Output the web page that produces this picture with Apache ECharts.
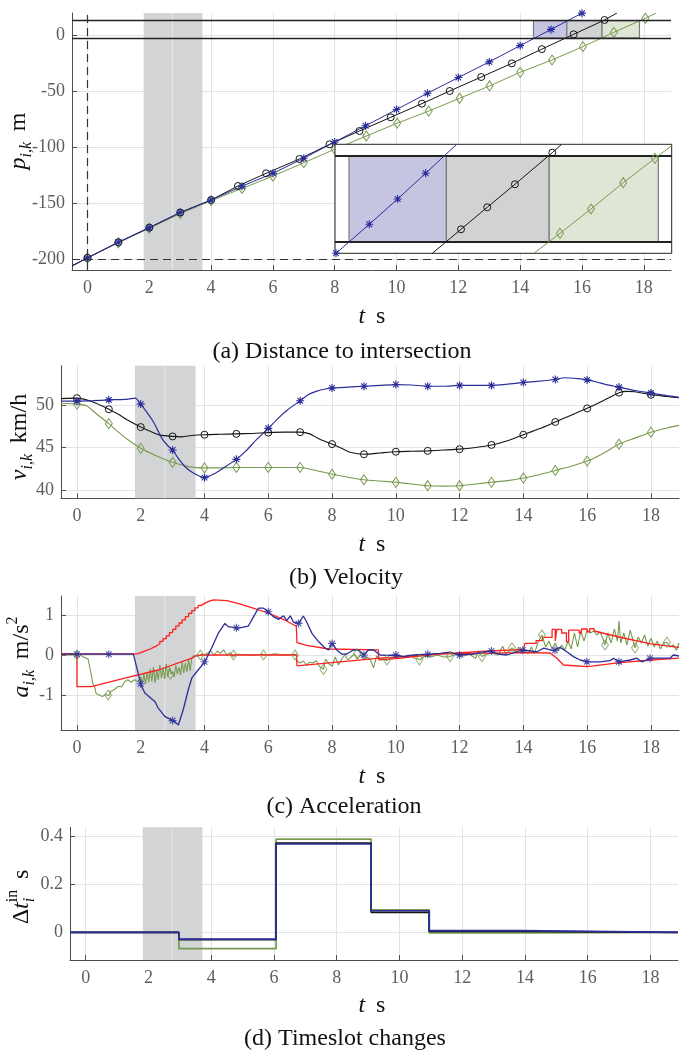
<!DOCTYPE html>
<html><head><meta charset="utf-8">
<script src="https://cdn.jsdelivr.net/npm/echarts@6/dist/echarts.min.js"></script>
<style>html,body{margin:0;padding:0;background:#fff}#c{width:689px;height:1053px}</style>
</head><body><div id="c"></div>
<script>
// ---------------- DATA ----------------
const xTicks = [0, 2, 4, 6, 8, 10, 12, 14, 16, 18];
const posTicks = [-200, -150, -100, -50, 0];
const velTicks = [40, 45, 50];
const accTicks = [-1, 0, 1];
const dtTicks = [0, 0.2, 0.4];

const band = [1.82, 3.72];
const bandLine = 2.75;
const zone = [-2.6, 12.8];
const slotBlue = [14.43, 15.51];
const slotBlack = [15.51, 16.65];
const slotGreen = [16.65, 17.86];

// (a) distance to intersection [t, p]
const posBlue = [[-0.5,-206.5],[0,-199],[1,-185],[2,-172],[3,-158.5],[4,-147.3],[5,-135],[6,-123.5],[7,-110],[8,-95.5],[9,-81],[10,-66.5],[11,-52],[12,-38],[13,-24],[14,-9.5],[15,5],[16,19.5]];
const posBlack = [[-0.5,-206],[0,-199],[1,-185],[2,-172],[3,-158.5],[4,-147.3],[4.87,-134.8],[5.78,-123.5],[6.86,-110.7],[7.83,-97.6],[8.8,-85.7],[9.81,-73.5],[10.82,-61.3],[11.72,-50],[12.74,-37.5],[13.73,-25.3],[14.7,-12.6],[15.73,0.6],[16.73,13.4],[17.13,19.6]];
const posGreen = [[-0.5,-206],[0,-199],[1,-185.5],[2,-172.5],[3,-159.5],[4,-148],[5,-137],[6,-126],[7,-114],[8,-102],[9.02,-90.2],[10.02,-78.8],[11.04,-67.9],[12.04,-56.5],[13.01,-45.5],[14.0,-33.3],[15.03,-22.3],[16.03,-10.4],[17.03,2.4],[18.05,14.9],[18.4,19.6]];
// (a) inset (zoom of the intersection zone)
const insBlue = [[14.286,-4.68],[14.655,0.51],[14.97,5.05],[15.28,9.65],[15.624,14.84]];
const insBlack = [[15.354,-4.68],[15.672,-0.38],[15.963,3.56],[16.27,7.68],[16.684,13.34],[16.788,14.84]];
const insGreen = [[16.481,-4.68],[16.769,-1.1],[17.113,3.25],[17.471,7.96],[17.822,12.33],[18.008,14.59]];

// (b) velocity [t, km/h]
const velBlue = [[-0.5,50.45],[0,50.45],[0.5,50.5],[1,50.6],[1.5,50.65],[1.83,50.8],[2,50.1],[2.2,49.1],[2.4,48.0],[2.66,46.1],[2.85,45.2],[3,44.7],[3.2,43.6],[3.4,42.7],[3.6,42.1],[3.8,41.7],[4,41.45],[4.3,41.9],[4.6,42.6],[5,43.6],[5.3,44.6],[5.6,45.8],[6,47.25],[6.3,48.4],[6.6,49.4],[7,50.5],[7.25,51.2],[7.5,51.6],[7.75,51.85],[8,52.0],[8.5,52.1],[9,52.2],[9.5,52.3],[10,52.4],[10.5,52.35],[11,52.2],[11.5,52.2],[12,52.3],[12.5,52.3],[13,52.3],[13.5,52.45],[14,52.65],[14.5,52.8],[15,53.0],[15.3,53.2],[15.7,53.1],[16,52.95],[16.3,52.7],[16.6,52.4],[17,52.1],[17.5,51.7],[18,51.4],[18.5,51.1],[18.88,50.9]];
const velBlack = [[-0.5,50.75],[0,50.8],[0.3,50.6],[0.6,50.2],[1,49.5],[1.3,48.9],[1.6,48.2],[2,47.4],[2.3,46.9],[2.6,46.45],[3,46.3],[3.3,46.25],[3.6,46.4],[4,46.5],[4.5,46.55],[5,46.6],[5.5,46.65],[6,46.75],[6.5,46.8],[7,46.8],[7.3,46.6],[7.6,46.0],[8,45.4],[8.3,44.9],[8.6,44.4],[9,44.2],[9.5,44.35],[10,44.5],[10.5,44.55],[11,44.6],[11.5,44.7],[12,44.8],[12.5,45.0],[13,45.3],[13.5,45.8],[14,46.5],[14.5,47.2],[15,48.0],[15.5,48.8],[16,49.6],[16.5,50.5],[17,51.45],[17.25,51.6],[17.5,51.55],[18,51.2],[18.5,51.0],[18.88,50.85]];
const velGreen = [[-0.5,50.2],[0,50.1],[0.3,49.9],[0.6,49.0],[1,47.8],[1.3,46.8],[1.6,45.9],[2,44.9],[2.5,44.0],[3,43.25],[3.5,42.75],[4,42.6],[4.5,42.6],[5,42.65],[6,42.65],[7,42.65],[7.5,42.3],[8,41.85],[8.5,41.5],[9,41.2],[9.5,41.05],[10,40.9],[10.5,40.7],[11,40.5],[11.5,40.45],[12,40.5],[12.5,40.7],[13,40.9],[13.5,41.1],[14,41.4],[14.5,41.8],[15,42.3],[15.5,42.8],[16,43.4],[16.5,44.3],[17,45.4],[17.5,46.1],[18,46.8],[18.5,47.3],[18.88,47.6]];

// (c) acceleration [t, m/s^2]
const accRedUpHead = [[-0.5,0.03]];
const accRedUpStairs = [[1.8,0.03],[1.9,0.06],[2.0,0.09],[2.1,0.12],[2.2,0.15],[2.3,0.19],[2.4,0.23],[2.5,0.28],[2.6,0.34],[2.7,0.41],[2.8,0.48],[2.9,0.56],[3.0,0.64],[3.1,0.72],[3.2,0.80],[3.3,0.88],[3.4,0.96],[3.5,1.04],[3.6,1.11],[3.7,1.18],[3.8,1.24],[3.9,1.29],[4.0,1.33],[4.1,1.36],[4.2,1.38],[4.3,1.38]];
const accRedUpTail = [[4.7,1.36],[5.1,1.28],[5.5,1.18],[6.0,1.05],[6.5,0.88],[6.88,0.72],[6.9,0.31],[7.2,0.24],[7.9,0.15],[9.45,0.13],[9.47,-0.12],[10.0,-0.09],[11.4,0.03],[12.96,0.1],[14.0,0.14],[14.05,0.14],[14.05,0.29],[14.4,0.29],[14.4,0.36],[14.6,0.36],[14.6,0.44],[14.9,0.44],[14.9,0.64],[15.0,0.64],[15.0,0.35],[15.05,0.35],[15.05,0.64],[15.2,0.64],[15.2,0.55],[15.35,0.55],[15.35,0.33],[15.42,0.33],[15.42,0.62],[15.75,0.62],[15.75,0.55],[15.82,0.55],[15.82,0.65],[16.0,0.65],[16.0,0.58],[16.08,0.58],[16.08,0.66],[16.22,0.66],[16.22,0.6],[17.0,0.45],[18.0,0.28],[18.88,0.19]];
const accRedLow = [[-0.5,0.03],[0,0.03],[0,-0.79],[0.45,-0.79],[0.5,-0.76],[1.5,-0.58],[2.55,-0.375],[3.6,-0.08],[3.75,-0.01],[4.0,0.0],[6.88,0.0],[6.9,-0.27],[8.25,-0.17],[9.5,-0.08],[11.4,0.03],[14.0,0.06],[14.84,0.05],[15.05,-0.08],[15.26,-0.25],[15.3,-0.29],[16.0,-0.29],[17.03,-0.19],[18.0,-0.125],[18.88,-0.08]];
const accBlue = [[-0.5,0.02],[1.77,0.02],[1.92,-0.46],[2.03,-0.79],[2.13,-0.95],[2.45,-1.17],[2.55,-1.33],[2.76,-1.54],[2.97,-1.62],[3.07,-1.67],[3.18,-1.75],[3.33,-1.375],[3.49,-0.875],[3.6,-0.58],[3.8,-0.375],[4.01,-0.17],[4.22,0.17],[4.43,0.54],[4.64,0.79],[4.74,0.71],[5.06,0.67],[5.37,0.72],[5.54,0.96],[5.69,1.17],[5.85,1.17],[6.0,1.08],[6.16,0.96],[6.32,0.89],[6.48,0.98],[6.58,0.86],[6.69,0.98],[6.79,0.82],[6.95,0.79],[7.1,0.975],[7.2,0.83],[7.37,0.54],[7.58,0.33],[7.79,0.17],[7.89,0.125],[8.0,0.29],[8.15,0.125],[8.31,0.02],[8.46,0.025],[8.67,0.125],[8.83,0.125],[9.0,0.0],[9.14,0.125],[9.3,0.125],[9.51,0.0],[9.72,-0.01],[10.03,0.0],[10.24,-0.04],[10.55,0.0],[11.02,0.02],[11.39,0.04],[11.7,0.07],[11.96,0.0],[12.44,0.025],[12.96,0.1],[13.22,0.025],[13.48,0.0],[13.9,0.11],[14.0,0.125],[14.42,0.075],[14.63,0.17],[14.94,0.11],[15.15,0.19],[15.36,0.08],[15.57,-0.04],[15.78,-0.125],[16.0,-0.17],[16.41,-0.17],[16.72,-0.14],[16.83,-0.08],[16.98,-0.17],[17.35,-0.125],[17.56,-0.08],[17.71,-0.17],[17.87,-0.125],[17.97,-0.08],[18.6,-0.08],[18.7,0.0],[18.88,-0.025]];
const accBlueStars = [[0,0.02],[1,0.02],[2,-0.72],[3,-1.64],[4,-0.17],[5,0.68],[6,1.08],[6.95,0.79],[8,0.29],[9,0.0],[10,0.0],[11,0.02],[12,0.0],[13,0.1],[13.98,0.12],[14.99,0.12],[15.99,-0.17],[17,-0.17],[17.97,-0.08]];
const accGreen = [[-0.5,0],[0.1,0],[0.2,-0.05],[0.35,-0.1],[0.4,-0.3],[0.45,-0.5],[0.5,-0.72],[0.55,-0.78],[0.6,-0.96],[0.7,-1.0],[0.8,-1.04],[0.9,-0.98],[1.0,-1.02],[1.05,-0.92],[1.1,-0.95],[1.2,-0.85],[1.25,-0.9],[1.3,-0.78],[1.4,-0.8],[1.5,-0.66],[1.6,-0.62],[1.7,-0.68],[1.8,-0.62],[1.9,-0.67],[2.0,-0.55],[2.05,-0.7],[2.1,-0.48],[2.15,-0.72],[2.2,-0.42],[2.25,-0.68],[2.3,-0.35],[2.35,-0.66],[2.4,-0.3],[2.45,-0.7],[2.5,-0.38],[2.55,-0.62],[2.6,-0.25],[2.65,-0.58],[2.7,-0.32],[2.75,-0.6],[2.8,-0.22],[2.85,-0.55],[2.9,-0.3],[2.95,-0.48],[3.0,-0.42],[3.05,-0.55],[3.1,-0.25],[3.15,-0.48],[3.2,-0.3],[3.25,-0.5],[3.3,-0.18],[3.35,-0.45],[3.4,-0.2],[3.45,-0.42],[3.5,-0.12],[3.55,-0.4],[3.6,-0.08],[3.65,-0.02],[3.7,0.02],[3.8,-0.03],[3.9,0.02],[4.0,0.0],[4.2,0.1],[4.3,0.0],[4.4,0.1],[4.5,0.04],[4.6,0.13],[4.7,0.0],[4.8,0.06],[4.9,-0.04],[5.0,0.02],[5.5,0.0],[5.8,0.02],[6.0,0.0],[6.2,0.03],[6.5,0.0],[6.88,0.02],[6.9,-0.15],[7.0,-0.2],[7.1,-0.15],[7.2,-0.25],[7.3,-0.18],[7.4,-0.2],[7.5,-0.14],[7.6,-0.28],[7.73,-0.36],[7.8,-0.1],[7.9,-0.22],[8.0,-0.28],[8.1,-0.05],[8.2,-0.25],[8.3,-0.1],[8.4,0.0],[8.5,-0.12],[8.6,-0.05],[8.7,0.03],[8.8,-0.1],[8.9,0.0],[9.0,-0.12],[9.1,-0.05],[9.2,-0.12],[9.3,-0.32],[9.4,-0.02],[9.5,-0.12],[9.6,-0.08],[9.7,-0.14],[9.8,-0.1],[10.0,-0.05],[10.2,-0.06],[10.4,0.0],[10.6,-0.08],[10.76,-0.12],[10.9,-0.03],[11.1,-0.05],[11.3,0.0],[11.5,-0.05],[11.7,-0.04],[11.9,0.02],[12.1,-0.03],[12.3,0.02],[12.5,-0.08],[12.6,0.1],[12.7,-0.04],[12.8,0.0],[13.0,0.05],[13.2,0.0],[13.35,0.22],[13.45,0.02],[13.55,0.1],[13.64,0.18],[13.75,0.08],[13.85,0.2],[13.95,0.05],[14.05,0.12],[14.15,0.03],[14.25,0.2],[14.35,0.04],[14.45,0.3],[14.58,0.5],[14.7,0.2],[14.8,0.35],[14.9,0.15],[15.0,0.3],[15.1,0.1],[15.2,0.25],[15.3,0.12],[15.4,0.35],[15.5,0.15],[15.6,0.55],[15.7,0.2],[15.8,0.6],[15.9,0.35],[16.0,0.62],[16.1,0.55],[16.2,0.6],[16.3,0.5],[16.4,0.58],[16.5,0.4],[16.56,0.25],[16.65,0.55],[16.75,0.3],[16.85,0.65],[16.95,0.35],[17.0,0.85],[17.05,0.3],[17.15,0.55],[17.25,0.25],[17.35,0.62],[17.5,0.18],[17.6,0.45],[17.7,0.3],[17.8,0.5],[17.9,0.22],[18.0,0.42],[18.1,0.2],[18.2,0.35],[18.3,0.15],[18.4,0.3],[18.5,0.32],[18.6,0.2],[18.7,0.25],[18.8,0.12],[18.88,0.3]];
const accGreenDiamonds = [[0,0],[0.98,-1.0],[2.93,-0.48],[3.87,0.0],[4.91,0.0],[5.85,0.0],[6.84,0.0],[7.73,-0.36],[8.78,0.03],[9.72,-0.12],[10.74,-0.12],[11.7,-0.04],[12.7,-0.04],[13.64,0.18],[14.58,0.5],[16.56,0.25],[17.5,0.18],[18.5,0.32]];

// (d) timeslot changes [t, s] (step changes)
const dtBlue = [[-0.5,0],[2.97,-0.028],[6.07,0.368],[9.1,0.09],[10.95,0.007],[13.87,0],[18.88,0]];
const dtBlack = [[-0.5,0],[2.97,-0.03],[6.07,0.372],[9.1,0.083],[10.95,0.004],[13.87,0],[18.88,0]];
const dtGreen = [[-0.5,0],[2.97,-0.068],[6.07,0.388],[9.1,0.094],[10.95,-0.002],[13.87,0],[18.88,0]];

// ---------------- STYLE ----------------
const X_MIN = -0.5, X_MAX = 18.88;
const COL = {blue:'#2b2e99', black:'#151515', green:'#789a50', red:'#ff1f1f',
  band:'#d3d4d6', bandLine:'#e3e4e5', grid:'#e3e3e3', axis:'#4d4d4d', label:'#5e5e5e',
  rBlue:'#c5c4e1', rGray:'#d1d2d4', rGreen:'#dfe6d6', rEdge:'#7a7a7a'};
const FONT = '"Liberation Serif", "Times New Roman", serif';
const STAR = 'path://M10,0L10,20M0,10L20,10M2.9,2.9L17.1,17.1M17.1,2.9L2.9,17.1';

function xAx(gi){ return {type:'value', gridIndex:gi, min:X_MIN, max:X_MAX,
  axisLine:{show:true,onZero:false,lineStyle:{color:COL.axis,width:1}},
  axisTick:{show:true,inside:true,length:5,customValues:xTicks,lineStyle:{color:COL.axis}},
  axisLabel:{show:true,customValues:xTicks,color:COL.label,fontFamily:FONT,fontSize:18,margin:9},
  splitLine:{show:true,lineStyle:{color:COL.grid,width:1}}}; }
function yAx(gi,min,max,ticks){ return {type:'value', gridIndex:gi, min, max,
  axisLine:{show:true,onZero:false,lineStyle:{color:COL.axis,width:1}},
  axisTick:{show:true,inside:true,length:5,customValues:ticks,lineStyle:{color:COL.axis}},
  axisLabel:{show:true,customValues:ticks,color:COL.label,fontFamily:FONT,fontSize:18,margin:7},
  splitLine:{show:true,lineStyle:{color:COL.grid,width:1}}}; }

function marked(arr, skipFirst, skipLast){
  return arr.map((v,i)=>((skipFirst&&i===0)||(skipLast&&i===arr.length-1))?{value:v,symbol:'none'}:{value:v});
}
function intMarks(arr){ return arr.map(v=>Number.isInteger(v[0])?{value:v}:{value:v,symbol:'none'}); }
function stairs(arr){ const out=[]; arr.forEach((p,i)=>{ if(i>0) out.push([p[0],arr[i-1][1]]); out.push(p); }); return out; }

const sym = {
  blue:{symbol:STAR,symbolSize:8,itemStyle:{color:'none',borderColor:COL.blue,borderWidth:1.1}},
  black:{symbol:'circle',symbolSize:7,itemStyle:{color:'none',borderColor:COL.black,borderWidth:1}},
  green:{symbol:'diamond',symbolSize:[7,10],itemStyle:{color:'none',borderColor:COL.green,borderWidth:1}}
};
function lineS(gi, data, color, width, s, extra){
  return Object.assign({type:'line', xAxisIndex:gi, yAxisIndex:gi, data, silent:true, animation:false,
    lineStyle:{color,width}, showSymbol:!!s, symbol: s? s.symbol:'none', symbolSize: s? s.symbolSize:0,
    itemStyle: s? s.itemStyle:{color}, z:3, emphasis:{disabled:true}}, extra||{});
}
function scatterS(gi, data, s){
  return {type:'scatter', xAxisIndex:gi, yAxisIndex:gi, data, silent:true, animation:false,
    symbol:s.symbol, symbolSize:s.symbolSize, itemStyle:s.itemStyle, z:4, emphasis:{disabled:true}};
}
const NL = {symbol:['none','none'], label:{show:false}, silent:true, animation:false};
function bandAreas(){ return [
  [{xAxis:band[0], itemStyle:{color:COL.band}},{xAxis:band[1]}],
  [{xAxis:bandLine-0.02, itemStyle:{color:COL.bandLine}},{xAxis:bandLine+0.02}]
]; }
function decor(gi, extraAreas, markLine, z){
  return {type:'line', xAxisIndex:gi, yAxisIndex:gi, data:[[X_MIN-50,0]], symbol:'none', silent:true,
    animation:false, lineStyle:{width:0},
    markArea:{silent:true, animation:false, z: z||1, data: extraAreas},
    markLine: markLine ? Object.assign({}, NL, markLine, {z:(z||1)+4}) : undefined};
}
function rect(r, color, y0, y1){ return [{xAxis:r[0], yAxis:y0, itemStyle:{color, borderColor:COL.rEdge, borderWidth:1.2}},{xAxis:r[1], yAxis:y1}]; }

// ---------------- TEXT (math-style labels) ----------------
const meas = document.createElement('canvas').getContext('2d');
function tw(font, s){ meas.font = font; return meas.measureText(s).width; }
const fI = 'italic 24px "Liberation Serif"', fR = '24px "Liberation Serif"';
const sI = 'italic 16px "Liberation Serif"', sR = '16px "Liberation Serif"';
const GAP = ' \u2009';
function mathLabel(cx, cy, rot, pieces){
  let x = 0; const items = [];
  pieces.forEach(p=>{ items.push({x,p}); if(!p.stay) x += tw(p.f, p.t); });
  const W = x;
  return {type:'group', x:cx, y:cy, rotation:rot, silent:true,
    children: items.map(({x,p})=>({type:'text', x:x-W/2, y:p.dy||0,
      style:{text:p.t, font:p.f, fill:'#111', align:'left', verticalAlign:'middle'}}))};
}
function caption(cx, cy, text){ return {type:'text', x:cx, y:cy, silent:true,
  style:{text, font:'24px "Liberation Serif"', fill:'#111', align:'center', verticalAlign:'middle'}}; }
const tLabel = cy => mathLabel(372, cy, 0, [{t:'t',f:fI},{t:GAP+'s',f:fR}]);
const R90 = Math.PI/2;

// ---------------- OPTION ----------------
const grids = [
  {left:72, top:13, width:599, height:257},
  {left:61, top:365.7, width:618, height:132.6},
  {left:61, top:596, width:618, height:134},
  {left:70, top:827.3, width:608, height:132.7},
  {left:335, top:144.3, width:336.7, height:109, show:true, backgroundColor:'#ffffff', borderColor:'#222', borderWidth:1, z:10}
].map(g=>Object.assign({outerBoundsMode:'none', containLabel:false}, g));

const insetX = {type:'value', gridIndex:4, min:14.275, max:18.008, show:false, splitLine:{show:false}};
const insetY = {type:'value', gridIndex:4, min:-4.68, max:14.84, show:false, splitLine:{show:false}};

const series = [
  // (a)
  decor(0, bandAreas().concat([
    rect(slotBlue, COL.rBlue, zone[0], zone[1]),
    rect(slotBlack, COL.rGray, zone[0], zone[1]),
    rect(slotGreen, COL.rGreen, zone[0], zone[1])
  ]), {data:[
    {yAxis:zone[1], lineStyle:{color:'#222', width:1.3, type:'solid'}},
    {yAxis:zone[0], lineStyle:{color:'#222', width:1.3, type:'solid'}},
    {xAxis:0, lineStyle:{color:'#333', width:1.2, type:[8,5]}},
    {yAxis:-200, lineStyle:{color:'#333', width:1.2, type:[8,5]}}
  ]}),
  lineS(0, marked(posGreen,true,true), COL.green, 1, sym.green),
  lineS(0, marked(posBlack,true,true), COL.black, 1, sym.black),
  lineS(0, marked(posBlue,true,false), COL.blue, 1, sym.blue),
  // (a) inset
  decor(4, [
    rect(slotBlue, COL.rBlue, zone[0], zone[1]),
    rect(slotBlack, COL.rGray, zone[0], zone[1]),
    rect(slotGreen, COL.rGreen, zone[0], zone[1])
  ], {data:[
    {yAxis:zone[1], lineStyle:{color:'#222', width:2, type:'solid'}},
    {yAxis:zone[0], lineStyle:{color:'#222', width:2, type:'solid'}}
  ]}, 11),
  lineS(4, marked(insGreen,true,true), COL.green, 1, sym.green, {z:17}),
  lineS(4, marked(insBlack,true,true), COL.black, 1, sym.black, {z:17}),
  lineS(4, marked(insBlue,false,true), COL.blue, 1, sym.blue, {z:17}),
  // (b)
  decor(1, bandAreas()),
  lineS(1, intMarks(velGreen), COL.green, 1.1, sym.green, {smooth:0.2}),
  lineS(1, intMarks(velBlack), COL.black, 1.1, sym.black, {smooth:0.2}),
  lineS(1, intMarks(velBlue), COL.blue, 1.2, sym.blue, {smooth:0.2}),
  // (c)
  decor(2, bandAreas()),
  lineS(2, accGreen, COL.green, 1.1, null),
  scatterS(2, accGreenDiamonds, sym.green),
  lineS(2, accRedUpHead.concat(stairs(accRedUpStairs), accRedUpTail), COL.red, 1.3, null),
  lineS(2, accRedLow, COL.red, 1.3, null),
  lineS(2, accBlue, COL.blue, 1.3, null),
  scatterS(2, accBlueStars, sym.blue),
  // (d)
  decor(3, bandAreas()),
  lineS(3, dtGreen, COL.green, 1.7, null, {step:'end'}),
  lineS(3, dtBlack, COL.black, 1.7, null, {step:'end'}),
  lineS(3, dtBlue, COL.blue, 1.7, null, {step:'end'})
];

const graphic = [
  mathLabel(19, 141, R90, [{t:'p',f:fI},{t:'i,k',f:sI,dy:8},{t:GAP+'m',f:fR}]),
  mathLabel(20, 437, R90, [{t:'v',f:fI},{t:'i,k',f:sI,dy:8},{t:GAP+'km/h',f:fR}]),
  mathLabel(22, 657, R90, [{t:'a',f:fI},{t:'i,k',f:sI,dy:8},{t:GAP+'m/s',f:fR},{t:'2',f:sR,dy:-9}]),
  mathLabel(22, 897, R90, [{t:'\u0394',f:fR},{t:'t',f:fI},{t:'i',f:sI,dy:8,stay:true},{t:'in',f:sR,dy:-9},{t:GAP+'s',f:fR}]),
  tLabel(317), tLabel(545), tLabel(777), tLabel(1006),
  caption(342, 352, '(a) Distance to intersection'),
  caption(346, 578, '(b) Velocity'),
  caption(344, 807, '(c) Acceleration'),
  caption(345, 1039, '(d) Timeslot changes')
];

const option = {
  animation:false,
  backgroundColor:'#ffffff',
  grid: grids,
  xAxis: [xAx(0), xAx(1), xAx(2), xAx(3), insetX],
  yAxis: [yAx(0,-209.8,19.64,posTicks), yAx(1,39.02,54.62,velTicks), yAx(2,-1.875,1.475,accTicks), yAx(3,-0.115,0.4375,dtTicks), insetY],
  series,
  graphic
};
const chart = echarts.init(document.getElementById('c'), null, {renderer:'canvas'});
chart.setOption(option);
</script></body></html>
